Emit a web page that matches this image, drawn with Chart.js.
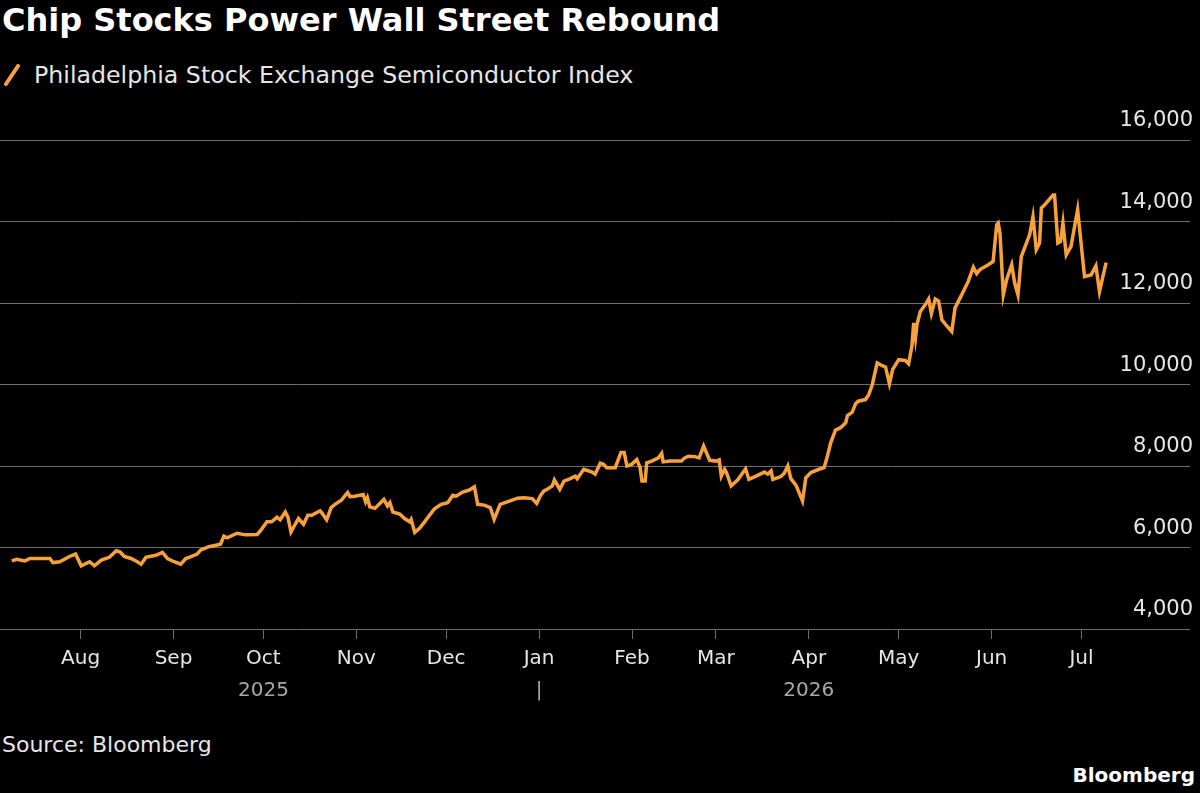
<!DOCTYPE html>
<html lang="en">
<head>
  <meta charset="UTF-8">
  <title>Chip Stocks Power Wall Street Rebound</title>
  <script src="https://cdn.jsdelivr.net/npm/chart.js"></script>
  <style>
    * {
      margin: 0;
      padding: 0;
      box-sizing: border-box;
    }

    body {
      background-color: #000;
      width: 1200px;
      height: 793px;
      position: relative;
      overflow: hidden;
      font-family: "DejaVu Sans", sans-serif;
      color: #e6e6e6;
    }

    .title {
      position: absolute;
      left: 2px;
      top: 0;
      font-size: 32px;
      font-weight: bold;
      line-height: 40px;
      color: #fff;
    }

    .legend {
      position: absolute;
      left: 4px;
      top: 60px;
      font-size: 23.7px;
      line-height: 30px;
      display: flex;
      align-items: center;
    }

    .legend svg {
      margin-right: 14px;
    }

    .chart-box {
      position: absolute;
      left: 0;
      top: 100px;
      width: 1200px;
      height: 603px;
    }

    .source {
      position: absolute;
      left: 2px;
      top: 732px;
      font-size: 22px;
      line-height: 26px;
    }

    .brand {
      position: absolute;
      right: 5px;
      top: 762px;
      font-size: 20px;
      font-weight: bold;
      line-height: 26px;
      color: #fff;
    }
  </style>
</head>
<body>
  <div class="title">Chip Stocks Power Wall Street Rebound</div>
  <div class="legend">
    <svg width="16" height="22"><line x1="2" y1="20" x2="14" y2="2" stroke="#f8a13c" stroke-width="4" stroke-linecap="round"/></svg>
    <span>Philadelphia Stock Exchange Semiconductor Index</span>
  </div>
  <div class="chart-box"><canvas id="sox-chart"></canvas></div>
  <div class="source">Source: Bloomberg</div>
  <div class="brand">Bloomberg</div>

  <script>
    // x = days after 1 Aug 2025
    const dayOffsets = [
      -23.0, -21.3, -18.6, -16.9, -10.3, -9.2, -7.0, -3.7, -1.7, 0.2,
      3.0, 4.6, 6.9, 9.6, 11.9, 13.2, 14.6, 16.8, 18.5, 20.2,
      21.8, 25.1, 27.3, 29.0, 31.2, 33.4, 35.1, 36.2, 38.9, 40.1,
      42.8, 46.7, 47.8, 48.9, 52.2, 55.0, 58.9, 60.0, 62.2, 63.7,
      65.5, 66.6, 68.3, 69.2, 70.2, 71.6, 72.7, 74.4, 75.8, 77.1,
      79.9, 80.4, 82.1, 83.6, 84.9, 87.1, 89.1, 89.9, 91.5, 94.3,
      95.1, 95.7, 96.5, 98.2, 101.2, 102.4, 103.2, 104.2, 106.5, 108.1,
      109.8, 110.3, 111.5, 113.1, 114.8, 116.4, 118.1, 120.3, 122.5, 124.2,
      125.3, 127.5, 129.7, 131.4, 132.5, 134.7, 136.7, 138.0, 140.0, 142.4,
      145.8, 148.0, 150.7, 152.2, 153.5, 154.6, 155.7, 157.4, 158.1, 159.9,
      161.3, 163.4, 165.1, 165.7, 167.9, 170.7, 171.7, 173.4, 174.5, 175.6,
      178.4, 180.3, 181.4, 182.3, 183.9, 185.6, 186.7, 187.3, 188.4, 188.9,
      190.6, 192.8, 193.9, 194.4, 196.6, 200.5, 201.6, 202.8, 205.0, 206.4,
      207.9, 209.9, 212.2, 213.1, 213.8, 214.9, 215.5, 217.1, 219.3, 221.9,
      223.0, 225.4, 228.2, 229.3, 230.4, 231.0, 233.7, 234.8, 236.0, 237.0,
      238.7, 240.9, 242.0, 243.7, 246.4, 248.1, 249.2, 250.3, 251.9, 253.6,
      255.3, 255.9, 257.5, 258.6, 259.5, 261.9, 263.0, 264.2, 265.8, 267.5,
      268.6, 269.9, 271.0, 273.0, 275.2, 276.3, 277.4, 278.0, 278.6, 279.1,
      280.2, 281.9, 283.0, 283.9, 285.2, 286.3, 287.4, 289.1, 290.7, 291.8,
      294.0, 296.2, 297.9, 299.0, 300.1, 302.9, 304.5, 305.7, 306.2, 306.8,
      307.9, 309.0, 310.7, 311.7, 312.8, 313.9, 316.7, 317.8, 318.9, 320.0,
      320.6, 321.7, 324.5, 325.0, 326.1, 327.0, 327.8, 328.9, 330.5, 332.7,
      335.0, 337.2, 338.8, 340.0, 342.2
    ];

    const soxValues = [
      5670, 5710, 5670, 5730, 5730, 5630, 5650, 5780, 5840, 5550,
      5650, 5550, 5690, 5760, 5920, 5890, 5780, 5730, 5670, 5590,
      5760, 5810, 5880, 5730, 5650, 5590, 5730, 5760, 5840, 5940,
      6020, 6080, 6280, 6240, 6350, 6310, 6320, 6410, 6630, 6630,
      6740, 6680, 6870, 6740, 6380, 6570, 6710, 6570, 6790, 6790,
      6900, 6860, 6680, 6980, 7060, 7170, 7350, 7250, 7260, 7300,
      7120, 7220, 7000, 6960, 7180, 7020, 7100, 6870, 6820, 6710,
      6630, 6690, 6370, 6470, 6630, 6790, 6950, 7060, 7100, 7280,
      7260, 7360, 7410, 7490, 7060, 7040, 6980, 6690, 7060, 7120,
      7210, 7220, 7200, 7080, 7280, 7390, 7430, 7510, 7660, 7430,
      7630, 7690, 7750, 7690, 7920, 7850, 7800, 8070, 8040, 7960,
      7960, 8330, 8330, 8000, 8040, 8160, 7960, 7630, 7630, 8080,
      8120, 8200, 8310, 8100, 8120, 8120, 8200, 8240, 8230, 8200,
      8490, 8140, 8120, 8150, 7750, 7920, 7840, 7510, 7660, 7930,
      7670, 7750, 7850, 7800, 7880, 7670, 7740, 7820, 8000, 7690,
      7530, 7140, 7710, 7840, 7920, 7960, 8240, 8570, 8880, 8940,
      9060, 9240, 9320, 9530, 9590, 9630, 9750, 10000, 10530, 10460,
      10430, 10020, 10370, 10610, 10590, 10510, 10940, 11510, 11140, 11470,
      11790, 11960, 12100, 11740, 12100, 12050, 11590, 11430, 11300, 11880,
      12200, 12530, 12880, 12720, 12820, 12940, 13020, 13920, 13960, 13710,
      12200, 12570, 12940, 12490, 12200, 13140, 13680, 14120, 13310, 13470,
      14330, 14410, 14650, 14650, 13470, 13510, 13960, 13180, 13390, 14290,
      12650, 12690, 12910, 12280, 12990
    ];

    // month starts, days after 1 Aug 2025
    const monthStartDays = [0, 31, 61, 92, 122, 153, 184, 212, 243, 273, 304, 334];
    const monthLabels = ['Aug', 'Sep', 'Oct', 'Nov', 'Dec', 'Jan', 'Feb', 'Mar', 'Apr', 'May', 'Jun', 'Jul'];
    const yearTickDays = [61, 153, 243];
    const yearLabels = ['2025', '|', '2026'];

    const xMin = -26.9;
    const xMax = 370.2;
    const gridColor = '#6e6e6e';

    Chart.defaults.font.family = '"DejaVu Sans", sans-serif';

    new Chart(document.getElementById('sox-chart'), {
      type: 'line',
      data: {
        datasets: [{
          label: 'Philadelphia Stock Exchange Semiconductor Index',
          data: dayOffsets.map((d, i) => ({ x: d, y: soxValues[i] })),
          borderColor: '#f8a13c',
          borderWidth: 3.5,
          pointRadius: 0,
          tension: 0,
        }],
      },
      options: {
        responsive: true,
        maintainAspectRatio: false,
        animation: false,
        layout: { padding: { top: 40, right: 4, left: 0, bottom: 0 } },
        plugins: {
          legend: { display: false },
          tooltip: { enabled: false },
        },
        scales: {
          x: {
            type: 'linear',
            min: xMin,
            max: xMax,
            afterBuildTicks: (scale) => {
              scale.ticks = monthStartDays.map(v => ({ value: v }));
            },
            ticks: {
              autoSkip: false,
              maxRotation: 0,
              padding: 8,
              color: '#e6e6e6',
              font: { size: 20 },
              callback: (v, i) => monthLabels[i],
            },
            grid: { drawOnChartArea: false, color: gridColor, tickLength: 10 },
            border: { display: false },
          },
          x2: {
            type: 'linear',
            position: 'bottom',
            min: xMin,
            max: xMax,
            afterBuildTicks: (scale) => {
              scale.ticks = yearTickDays.map(v => ({ value: v }));
            },
            ticks: {
              autoSkip: false,
              maxRotation: 0,
              padding: 0,
              color: '#a8a8a8',
              font: { size: 20 },
              callback: (v, i) => yearLabels[i],
            },
            grid: { display: false, drawTicks: false },
            border: { display: false },
          },
          y: {
            position: 'right',
            min: 4000,
            max: 16000,
            ticks: {
              stepSize: 2000,
              mirror: true,
              labelOffset: -19,
              padding: 3,
              color: '#e6e6e6',
              font: { size: 21 },
              callback: v => v.toLocaleString('en-US'),
            },
            grid: { color: gridColor, drawTicks: false },
            border: { display: false },
          },
        },
      },
    });
  </script>
</body>
</html>
